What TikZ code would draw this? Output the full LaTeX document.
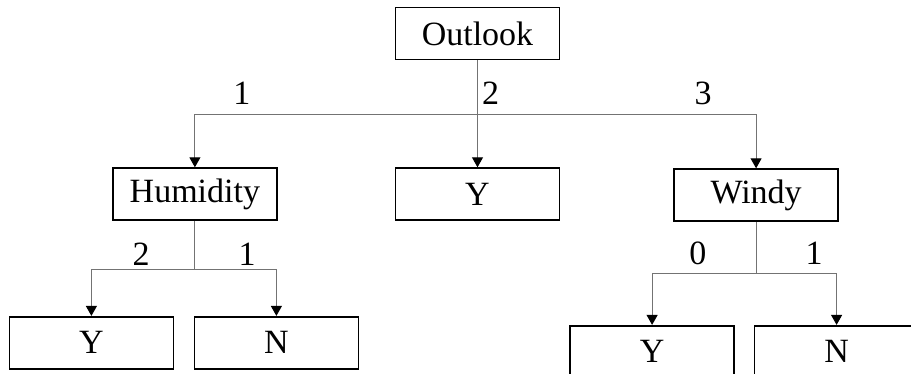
\documentclass[tikz,border=0pt]{standalone}
\usepackage{fontspec}
\setmainfont{Liberation Serif}
\usetikzlibrary{arrows.meta, positioning}

\begin{document}
\begin{tikzpicture}[
    x=1pt, y=1pt,
    box/.style={rectangle, draw, line width=1.6pt, minimum width=164pt, minimum height=52pt, align=center, font=\fontsize{34}{37}\selectfont},
    link/.style={draw=black!55, line width=1pt},
    arrow/.style={link, -{Triangle[length=10pt, width=11pt, color=black]}},
    lbl/.style={font=\fontsize{34}{37}\selectfont, inner sep=0pt}
]
    \clip (0,0) rectangle (911,-373);

    % Root
    \node[box] (outlook) at (477.5,-33.5) {Outlook};

    % Second level
    \node[box, below=107pt of outlook] (ymid) {Y};
    \node[box, below left=107pt and 117pt of outlook] (hum) {Humidity};
    \node[box, below right=108pt and 113pt of outlook] (windy) {Windy};

    % Leaves
    \node[box, below=95pt of hum, xshift=-103.5pt] (humy) {Y};
    \node[box, below=95pt of hum, xshift=81.5pt] (humn) {N};
    \node[box, below=103pt of windy, xshift=-104pt] (windyy) {Y};
    \node[box, below=103pt of windy, xshift=80.5pt] (windyn) {N};

    % Split points
    \coordinate[below=54pt of outlook.south] (split1);
    \coordinate[below=49pt of hum.south] (split2);
    \coordinate[below=52pt of windy.south] (split3);

    % Arrows from the root
    \draw[arrow] (outlook) -- node[lbl, pos=0.31, right=4pt] {2} (ymid);
    \draw[arrow] (split1) -| node[lbl, pos=0.417, above=9pt] {1} (hum);
    \draw[arrow] (split1) -| node[lbl, pos=0.405, above=9pt] {3} (windy);

    % Humidity
    \draw[link] (hum) -- (split2);
    \draw[arrow] (split2) -| node[lbl, pos=0.26, above=4pt] {2} (humy);
    \draw[arrow] (split2) -| node[lbl, pos=0.32, above=4pt] {1} (humn);

    % Windy
    \draw[link] (windy) -- (split3);
    \draw[arrow] (split3) -| node[lbl, pos=0.28, above=9pt] {0} (windyy);
    \draw[arrow] (split3) -| node[lbl, pos=0.36, above=9pt] {1} (windyn);
\end{tikzpicture}
\end{document}
